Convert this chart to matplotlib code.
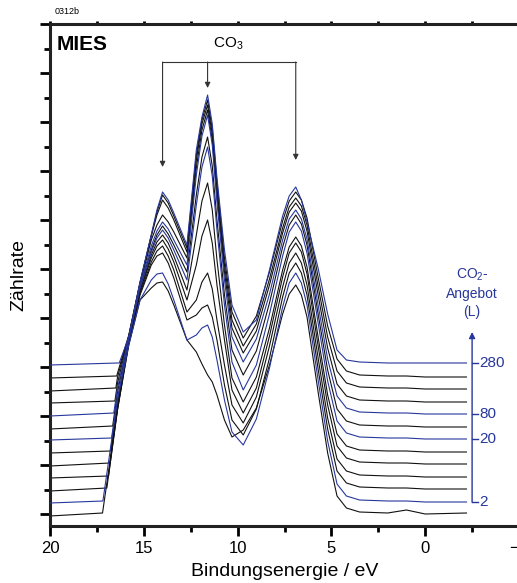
import matplotlib

matplotlib.use("Agg")

import matplotlib.pyplot as plt
from matplotlib.ticker import MultipleLocator

plt.rcParams["font.family"] = ["Liberation Sans", "DejaVu Sans"]
plt.rcParams["mathtext.fontset"] = "custom"
plt.rcParams["mathtext.rm"] = "Liberation Sans"

# shared energy grid (eV) for the spectra, below the onset
energy_ev = [16.4, 15.8, 15.2, 14.6, 14.3, 14.0, 13.7, 13.4, 12.7, 12.2, 11.9, 11.6, 11.35,
             11.1, 10.7, 10.3, 9.7, 9.0, 8.3, 7.6, 7.25, 6.9, 6.6, 6.3, 5.7, 5.2, 4.7,
             4.2, 3.5, 2.0, 1.0, 0.0, -2.2]
start_ev = 20.0

# secondary-electron onset per spectrum (bottom -> top)
onset_ev = [17.20, 17.18, 16.97, 16.88, 16.81, 16.77, 16.72, 16.66, 16.60, 16.54, 16.49, 16.44, 16.31]

# vertical offset of each spectrum (counts)
offsets = [0, 12, 25, 37, 50, 62, 75, 87, 100, 112, 125, 137, 151]

# count rate: value at 20 eV, value at onset, then values on energy_ev
spec_00 = [-2, 1, 105, 169, 214, 226, 231, 232, 223, 209, 174, 162, 150, 139, 132, 119, 94, 77, 84, 106, 149, 200, 220, 229, 219, 197, 121, 61, 18, 6, 2, 1, 4, 0, 1]
spec_01 = [-1, 1, 103, 157, 202, 222, 228, 229, 218, 202, 162, 167, 174, 177, 165, 142, 102, 70, 57, 83, 134, 195, 219, 229, 219, 197, 121, 61, 18, 6, 2, 1, 1, 0, 0]
spec_02 = [-2, 1, 79, 146, 194, 224, 233, 236, 226, 211, 169, 174, 181, 184, 172, 149, 104, 69, 54, 80, 131, 192, 216, 226, 216, 194, 119, 60, 18, 6, 2, 1, 1, 0, 0]
spec_03 = [-1, 1, 69, 135, 184, 215, 226, 231, 221, 207, 165, 177, 195, 204, 188, 157, 112, 72, 54, 80, 131, 190, 214, 224, 214, 192, 118, 59, 18, 6, 2, 1, 1, 0, 0]
spec_04 = [-2, 1, 59, 123, 173, 206, 218, 224, 215, 202, 164, 199, 228, 244, 221, 179, 124, 74, 51, 76, 128, 187, 211, 221, 212, 190, 117, 59, 18, 6, 2, 1, 1, 0, 0]
spec_05 = [-1, 1, 49, 112, 162, 197, 210, 217, 209, 196, 162, 217, 251, 269, 242, 192, 127, 74, 50, 75, 124, 182, 205, 215, 206, 185, 114, 57, 18, 6, 2, 1, 1, 0, 0]
spec_06 = [-1, 1, 41, 100, 151, 187, 201, 209, 201, 189, 159, 234, 272, 292, 263, 209, 134, 77, 49, 74, 125, 183, 207, 217, 208, 186, 115, 58, 18, 6, 2, 1, 1, 0, 0]
spec_07 = [-2, 1, 35, 89, 140, 177, 192, 201, 193, 182, 155, 232, 270, 290, 261, 207, 132, 77, 52, 76, 124, 180, 202, 212, 203, 182, 112, 57, 18, 6, 2, 1, 1, 0, 0]
spec_08 = [-2, 1, 26, 77, 129, 168, 183, 192, 185, 174, 149, 239, 278, 299, 269, 212, 134, 77, 52, 75, 120, 174, 195, 204, 195, 175, 108, 55, 18, 6, 2, 1, 1, 0, 0]
spec_09 = [-1, 1, 19, 66, 118, 162, 177, 187, 180, 170, 144, 234, 272, 292, 262, 207, 130, 74, 49, 71, 117, 169, 190, 199, 191, 171, 106, 54, 18, 6, 2, 1, 1, 0, 0]
spec_10 = [-2, 1, 12, 53, 106, 153, 174, 189, 181, 169, 137, 229, 265, 284, 255, 201, 124, 69, 43, 65, 110, 161, 182, 191, 183, 164, 102, 52, 18, 6, 2, 1, 1, 0, 0]
spec_11 = [-1, 1, 4, 42, 95, 142, 165, 182, 174, 161, 129, 222, 257, 277, 248, 195, 119, 65, 39, 61, 105, 156, 176, 185, 177, 159, 99, 51, 18, 6, 2, 1, 1, 0, 0]
spec_12 = [-2, 0, 0, 26, 81, 128, 153, 171, 163, 150, 118, 213, 246, 268, 239, 185, 113, 58, 31, 43, 93, 147, 167, 176, 163, 141, 94, 49, 13, 3, 1, 0, 0, 0, 0]
spectra = [spec_00, spec_01, spec_02, spec_03, spec_04, spec_05, spec_06,
           spec_07, spec_08, spec_09, spec_10, spec_11, spec_12]

# CO2 exposure (L) labelled on the right, and which spectrum it belongs to
exposure_labels = ["2", "20", "80", "280"]
exposure_index = [1, 6, 8, 12]

# CO3 feature positions (eV)
co3_peaks_ev = [14.0, 11.6, 6.9]

BLUE = "#27379b"
BLACK = "#111111"
GRAY = "#333333"

fig = plt.figure(figsize=(5.17, 5.83), dpi=100)
ax = fig.add_axes([50 / 517, 57 / 583, 469 / 517, 502 / 583])

for i, spec in enumerate(spectra):
    pts = [(start_ev, spec[0]), (onset_ev[i], spec[1])]
    pts += list(zip(energy_ev, spec[2:]))
    pts.sort(key=lambda p: -p[0])
    xs = [p[0] for p in pts]
    ys = [p[1] + offsets[i] for p in pts]
    color = BLUE if i in exposure_index else BLACK
    ax.plot(xs, ys, color=color, lw=0.8, zorder=3 if color == BLUE else 2)

ax.set_xlim(20, -5)
ax.set_ylim(-12, 490)

ax.xaxis.set_major_locator(MultipleLocator(5))
ax.xaxis.set_minor_locator(MultipleLocator(2.5))
ax.yaxis.set_major_locator(MultipleLocator(49))
ax.yaxis.set_minor_locator(MultipleLocator(24.5))
ax.tick_params(axis="both", which="major", direction="out", length=7, width=2, labelsize=12, pad=4)
ax.tick_params(axis="both", which="minor", direction="out", length=4, width=2)
ax.tick_params(axis="x", which="both", top=True, labeltop=False)
ax.tick_params(axis="y", which="both", labelleft=False)
for t in ax.xaxis.get_major_ticks() + ax.xaxis.get_minor_ticks():
    t.tick2line.set_markersize(2)

for side in ["left", "bottom", "top"]:
    ax.spines[side].set_linewidth(2.2)
    ax.spines[side].set_color("#222222")
ax.spines["right"].set_visible(False)

ax.set_xlabel("Bindungsenergie / eV", fontsize=14, labelpad=5)
ax.set_ylabel("Zählrate", fontsize=14, labelpad=9)

# CO3 bracket with arrows
bracket_y = 452
tips_y = [347, 426, 354]
ax.plot([co3_peaks_ev[0], co3_peaks_ev[2]], [bracket_y, bracket_y], color=GRAY, lw=0.8)
for e, ty in zip(co3_peaks_ev, tips_y):
    ax.annotate("", xy=(e, ty), xytext=(e, bracket_y),
                arrowprops=dict(arrowstyle="-|>", color=GRAY, lw=0.8,
                                mutation_scale=8, shrinkA=0, shrinkB=0))
ax.text(10.5, 470, r"CO$_3$", fontsize=11, ha="center", va="center")
ax.text(19.65, 470, "MIES", fontsize=15, fontweight="bold", ha="left", va="center")

# CO2 exposure scale on the right
scale_x = -2.5
ax.annotate("", xy=(scale_x, 182), xytext=(scale_x, offsets[exposure_index[0]]),
            arrowprops=dict(arrowstyle="-|>", color=BLUE, lw=1.0,
                            mutation_scale=9, shrinkA=0, shrinkB=0))
for lab, idx in zip(exposure_labels, exposure_index):
    y = offsets[idx]
    ax.plot([scale_x, scale_x - 0.3], [y, y], color=BLUE, lw=1.0)
    ax.text(scale_x - 0.4, y, lab, color=BLUE, fontsize=11, ha="left", va="center")
ax.text(scale_x, 221, "CO$_2$-\nAngebot\n(L)", color=BLUE, fontsize=10,
        ha="center", va="center", linespacing=1.35)

fig.text(55 / 517, 1 - 12 / 583, "0312b", fontsize=6.5, ha="left", va="center")

fig.savefig("out.png", dpi=100)
